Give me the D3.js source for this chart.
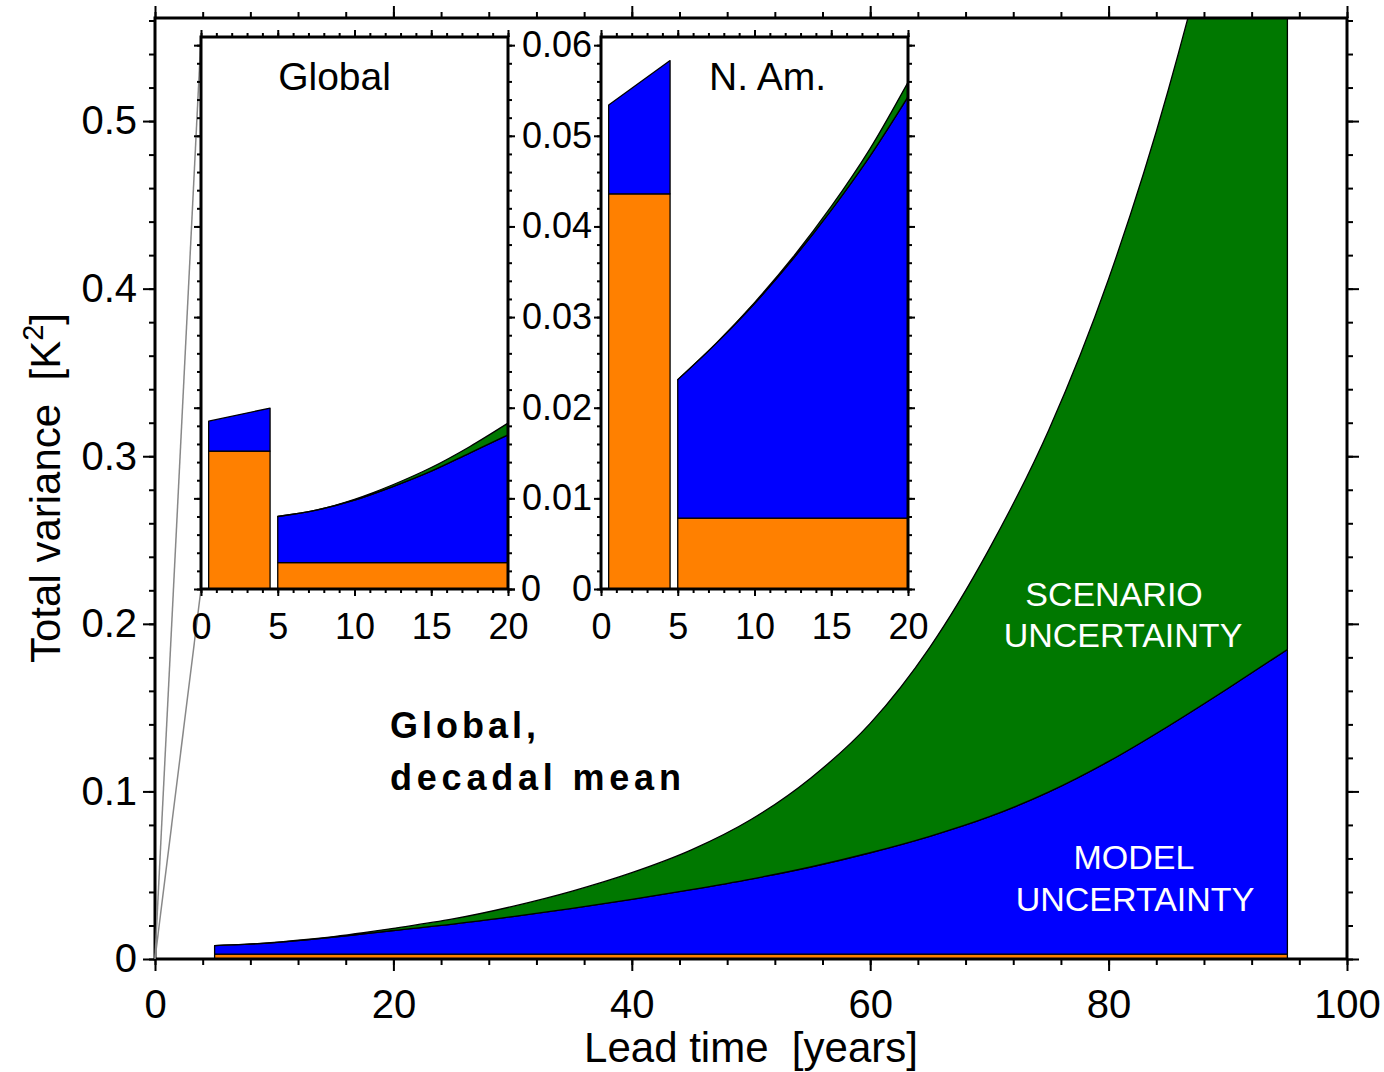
<!DOCTYPE html>
<html>
<head>
<meta charset="utf-8">
<title>Total variance vs lead time</title>
<style>
  body { margin: 0; background: #fff; }
  svg { display: block; font-family: 'Liberation Sans', Arial, Helvetica, sans-serif; }
</style>
</head>
<body>
<div id="chart"></div>
<script src="https://d3js.org/d3.v7.min.js"></script>
<script>
// ---- data (cumulative tops of each band, K^2) ----
// global, decadal mean
var leadYears   = [5, 7.5, 10, 12.5, 15, 17.5, 20, 25, 30, 35, 40, 45, 50, 55, 60, 65, 70, 75, 80, 85, 90, 95];
var internalTop = [0.0029, 0.0029, 0.0029, 0.0029, 0.0029, 0.0029, 0.0029, 0.0029, 0.0029, 0.0029, 0.0029,
                   0.0029, 0.0029, 0.0029, 0.0029, 0.0029, 0.0029, 0.0029, 0.0029, 0.0029, 0.0029, 0.0029];
var modelTop    = [0.0080, 0.0087, 0.0098, 0.0113, 0.0130, 0.0150, 0.0170, 0.0208, 0.0253, 0.0302, 0.0356,
                   0.0414, 0.0477, 0.0549, 0.0634, 0.0732, 0.0849, 0.0997, 0.1179, 0.1389, 0.1614, 0.1847];
var totalTop    = [0.0080, 0.0087, 0.0099, 0.0115, 0.0134, 0.0157, 0.0183, 0.0239, 0.0314, 0.0405, 0.0515,
                   0.0651, 0.0832, 0.1079, 0.1406, 0.186, 0.2449, 0.316, 0.4058, 0.5184, 0.659, 0.838];

// first-5-year bars in the insets
var barYears          = [0.5, 4.5];
var globalBarInternal = [0.01522, 0.01522];
var globalBarModel    = [0.01852, 0.01996];
var naBarInternal     = [0.0436, 0.0436];
var naBarModel        = [0.0534, 0.0583];

// N. America, decadal mean (lead 5-20)
var naYears    = [5, 7.5, 10, 12.5, 15, 17.5, 20];
var naInternal = [0.00783, 0.00783, 0.00783, 0.00783, 0.00783, 0.00783, 0.00783];
var naModelTop = [0.0231, 0.0271, 0.0315, 0.0364, 0.0418, 0.0477, 0.0543];
var naTotalTop = [0.0231, 0.0271, 0.0316, 0.0366, 0.0422, 0.0485, 0.0559];

// ticks
var mainXTicks  = [0, 20, 40, 60, 80, 100];
var mainXLabels = ["0", "20", "40", "60", "80", "100"];
var mainYTicks  = [0, 0.1, 0.2, 0.3, 0.4, 0.5];
var mainYLabels = ["0", "0.1", "0.2", "0.3", "0.4", "0.5"];
var insetXTicks  = [0, 5, 10, 15, 20];
var insetXLabels = ["0", "5", "10", "15", "20"];
var insetYTicks  = [0, 0.01, 0.02, 0.03, 0.04, 0.05, 0.06];
var insetYLabels = ["0", "0.01", "0.02", "0.03", "0.04", "0.05", "0.06"];

var COLORS = { internal: "#ff8000", model: "#0000ff", scenario: "#007800" };

var svg = d3.select("#chart").append("svg")
    .attr("width", 1384)
    .attr("height", 1072);

// ---- scales ----
var xMain = d3.scaleLinear().domain([0, 100]).range([155, 1347]);
var yMain = d3.scaleLinear().domain([0, 0.5615]).range([959, 18]);

var xGlob = d3.scaleLinear().domain([0, 20]).range([201, 508]);
var xNA   = d3.scaleLinear().domain([0, 20]).range([601, 908]);
var yIns  = d3.scaleLinear().domain([0, 0.0609]).range([589, 37]);

// stacked bands: internal (orange), model (blue), scenario (green)
function drawLayers(g, x, y, years, internal, model, total, curve) {
    var idx = d3.range(years.length);
    var layers = [
        { fill: COLORS.internal, lo: null, hi: internal },
        { fill: COLORS.model, lo: internal, hi: model },
        { fill: COLORS.scenario, lo: model, hi: total }
    ];
    layers.forEach(function(L) {
        if (!L.hi) return;
        var area = d3.area().curve(curve)
            .x(function(i) { return x(years[i]); })
            .y0(function(i) { return y(L.lo ? L.lo[i] : 0); })
            .y1(function(i) { return y(L.hi[i]); });
        g.append("path").datum(idx)
            .attr("d", area)
            .attr("fill", L.fill)
            .attr("stroke", "#000")
            .attr("stroke-width", 1.3)
            .attr("stroke-linejoin", "round");
    });
}

// one axis side (ticks only, or ticks with labels)
function side(g, axisFn, scale, tr, values, len, labels, pad, fs) {
    var a = axisFn(scale).tickValues(values).tickSize(len).tickSizeOuter(0).tickPadding(pad || 0)
        .tickFormat(function(d) {
            if (!labels) return "";
            var k = values.indexOf(d);
            return k < 0 ? "" : labels[k];
        });
    var ax = g.append("g").attr("transform", tr).call(a);
    ax.select(".domain").remove();
    ax.attr("font-family", null).attr("font-size", fs || 36);
    ax.selectAll("line").attr("stroke", "#000").attr("stroke-width", 2);
    ax.selectAll("text").attr("fill", "#000");
    return ax;
}

function frame(g, x, y, o) {
    var x0 = x.range()[0], x1 = x.range()[1], yb = y.range()[0], yt = y.range()[1];
    var bottom = "translate(0," + yb + ")", top = "translate(0," + yt + ")";
    var left = "translate(" + x0 + ",0)", right = "translate(" + x1 + ",0)";
    side(g, d3.axisBottom, x, bottom, o.xMinor, o.minor);
    side(g, d3.axisTop, x, top, o.xMinor, o.minor);
    side(g, d3.axisLeft, y, left, o.yMinor, o.minor);
    side(g, d3.axisRight, y, right, o.yMinor, o.minor);
    side(g, d3.axisBottom, x, bottom, o.xMajor, o.major, o.xLabels, o.xPad, o.fs);
    side(g, d3.axisTop, x, top, o.xMajor, o.major);
    side(g, d3.axisLeft, y, left, o.yMajor, o.major, o.yLabelsLeft, o.yPadLeft, o.fs);
    side(g, d3.axisRight, y, right, o.yMajor, o.major);
    g.append("rect")
        .attr("x", x0).attr("y", yt)
        .attr("width", x1 - x0).attr("height", yb - yt)
        .attr("fill", "none")
        .attr("stroke", "#000")
        .attr("stroke-width", 3);
}

// ---- main panel ----
svg.append("clipPath").attr("id", "clipMain")
  .append("rect")
    .attr("x", xMain(0)).attr("y", yMain(0.5615))
    .attr("width", xMain(100) - xMain(0)).attr("height", yMain(0) - yMain(0.5615));

var gMain = svg.append("g").attr("clip-path", "url(#clipMain)");
drawLayers(gMain, xMain, yMain, leadYears, internalTop, modelTop, totalTop, d3.curveMonotoneX);

frame(svg.append("g"), xMain, yMain, {
    xMajor: mainXTicks, xMinor: d3.range(0, 101, 4), xLabels: mainXLabels, xPad: 19,
    yMajor: mainYTicks, yMinor: d3.range(0, 0.561, 0.02), yLabelsLeft: mainYLabels, yPadLeft: 6,
    major: 12, minor: 6, fs: 40
});

// zoom lines from the origin to the global inset
svg.append("g").selectAll("line")
    .data([yIns.range()[1], yIns.range()[0]])
    .enter().append("line")
    .attr("x1", xMain(0)).attr("y1", yMain(0))
    .attr("x2", xGlob(0)).attr("y2", function(d) { return d; })
    .attr("stroke", "#888")
    .attr("stroke-width", 1.5);

// ---- insets ----
function inset(x, title, bInt, bMod, years, internal, model, total) {
    var g = svg.append("g");
    g.append("rect")
        .attr("x", x.range()[0]).attr("y", yIns.range()[1])
        .attr("width", x.range()[1] - x.range()[0])
        .attr("height", yIns.range()[0] - yIns.range()[1])
        .attr("fill", "#fff");
    drawLayers(g, x, yIns, barYears, bInt, bMod, null, d3.curveLinear);
    var sub = years.filter(function(d) { return d <= 20; }).length;
    drawLayers(g, x, yIns, years.slice(0, sub), internal.slice(0, sub), model.slice(0, sub),
        total.slice(0, sub), d3.curveMonotoneX);
    g.append("text")
        .attr("x", (x.range()[0] + x.range()[1]) / 2 + title.dx)
        .attr("y", 90)
        .attr("text-anchor", "middle")
        .attr("font-size", 39)
        .text(title.text);
    return g;
}

var gGlob = inset(xGlob, { text: "Global", dx: -20 }, globalBarInternal, globalBarModel,
    leadYears, internalTop, modelTop, totalTop);
frame(gGlob, xGlob, yIns, {
    xMajor: insetXTicks, xMinor: d3.range(0, 21, 1), xLabels: insetXLabels, xPad: 17,
    yMajor: insetYTicks, yMinor: d3.range(0, 0.0601, 0.002), yLabelsLeft: null,
    major: 7, minor: 4, fs: 36
});
side(gGlob, d3.axisRight, yIns, "translate(" + xGlob(20) + ",0)", [0], 7, ["0"], 6, 36);

var gNA = inset(xNA, { text: "N. Am.", dx: 13 }, naBarInternal, naBarModel,
    naYears, naInternal, naModelTop, naTotalTop);
frame(gNA, xNA, yIns, {
    xMajor: insetXTicks, xMinor: d3.range(0, 21, 1), xLabels: insetXLabels, xPad: 17,
    yMajor: insetYTicks, yMinor: d3.range(0, 0.0601, 0.002), yLabelsLeft: insetYLabels, yPadLeft: 2,
    major: 7, minor: 4, fs: 36
});

// ---- annotations ----
function label(x, y, txt, o) {
    o = o || {};
    return svg.append("text")
        .attr("x", x).attr("y", y)
        .attr("text-anchor", o.anchor || "middle")
        .attr("font-size", o.size || 34)
        .attr("font-weight", o.weight || null)
        .attr("letter-spacing", o.ls || null)
        .attr("fill", o.fill || "#000")
        .style("white-space", "pre")
        .text(txt);
}

label(1114, 606, "SCENARIO", { fill: "#fff" });
label(1123, 647, "UNCERTAINTY", { fill: "#fff" });
label(1134, 869, "MODEL", { fill: "#fff" });
label(1135, 911, "UNCERTAINTY", { fill: "#fff" });

label(390, 738, "Global,", { anchor: "start", size: 36, weight: "bold", ls: 4 });
label(390, 790, "decadal mean", { anchor: "start", size: 36, weight: "bold", ls: 4.8 });

label(751, 1062, "Lead time  [years]", { size: 42 });

var yTitle = svg.append("text")
    .attr("transform", "translate(60,488) rotate(-90)")
    .attr("text-anchor", "middle")
    .attr("font-size", 42)
    .style("white-space", "pre");
yTitle.append("tspan").text("Total variance  [K");
yTitle.append("tspan").attr("dy", -17).attr("font-size", 29).text("2");
yTitle.append("tspan").attr("dy", 17).text("]");
</script>
</body>
</html>
